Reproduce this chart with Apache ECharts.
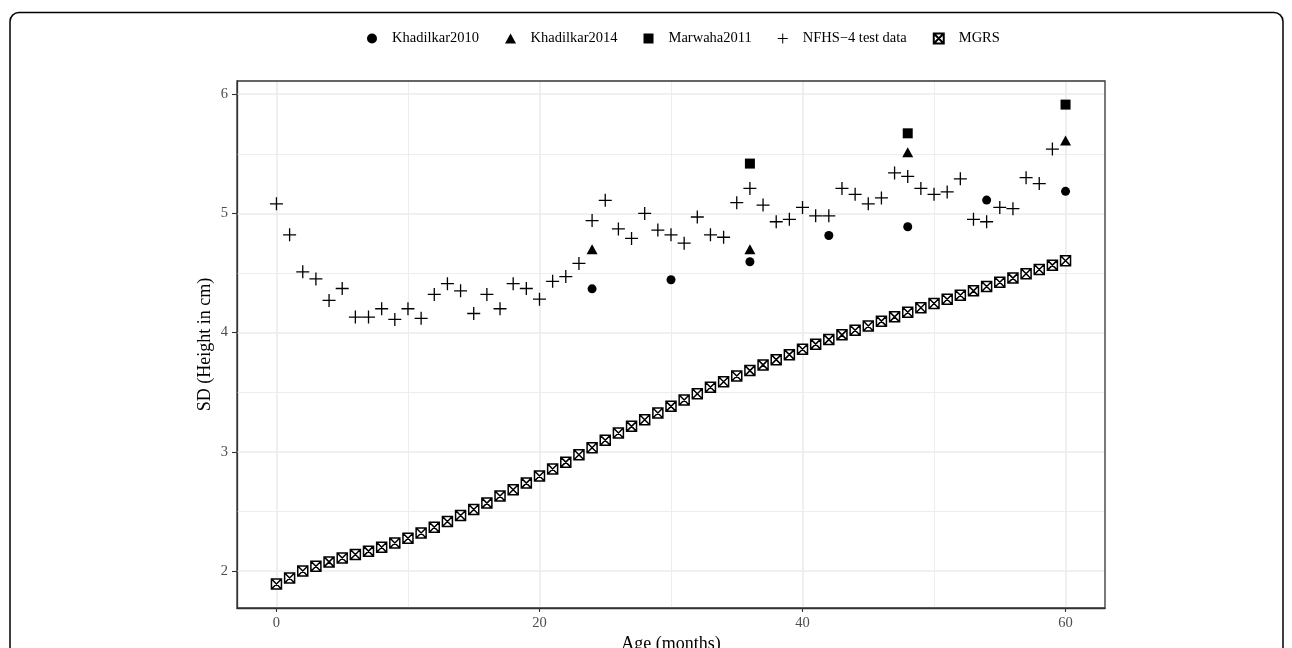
<!DOCTYPE html>
<html>
<head>
<meta charset="utf-8">
<script src="https://cdn.jsdelivr.net/npm/echarts@6/dist/echarts.min.js"></script>
<style>
html,body{margin:0;padding:0;background:#fff;}
#chart{width:1292px;height:648px;}
</style>
</head>
<body>
<div id="chart"></div>
<script>
// ---- data ----
const nfhsAges = [0,1,2,3,4,5,6,7,8,9,10,11,12,13,14,15,16,17,18,19,20,21,22,23,24,25,26,27,28,29,30,31,32,33,34,35,36,37,38,39,40,41,42,43,44,45,46,47,48,49,50,51,52,53,54,55,56,57,58,59];
const nfhsSD = [5.08,4.82,4.51,4.45,4.27,4.37,4.13,4.13,4.20,4.11,4.20,4.12,4.32,4.41,4.35,4.16,4.32,4.20,4.41,4.37,4.28,4.43,4.47,4.58,4.94,5.11,4.87,4.79,5.00,4.86,4.82,4.75,4.97,4.82,4.80,5.09,5.21,5.07,4.93,4.95,5.05,4.98,4.98,5.21,5.16,5.08,5.13,5.34,5.31,5.21,5.16,5.18,5.29,4.95,4.93,5.05,5.04,5.30,5.25,5.54];

const mgrsAges = [0,1,2,3,4,5,6,7,8,9,10,11,12,13,14,15,16,17,18,19,20,21,22,23,24,25,26,27,28,29,30,31,32,33,34,35,36,37,38,39,40,41,42,43,44,45,46,47,48,49,50,51,52,53,54,55,56,57,58,59,60];
const mgrsSD = [1.891,1.941,2.000,2.039,2.076,2.109,2.138,2.166,2.199,2.235,2.275,2.319,2.367,2.415,2.465,2.516,2.569,2.628,2.681,2.737,2.796,2.855,2.913,2.975,3.034,3.096,3.157,3.213,3.269,3.325,3.381,3.434,3.487,3.541,3.588,3.636,3.681,3.729,3.773,3.815,3.860,3.903,3.941,3.981,4.020,4.056,4.096,4.132,4.171,4.208,4.244,4.280,4.314,4.350,4.387,4.423,4.457,4.493,4.529,4.566,4.602];

const khad2010Ages = [24,30,36,42,48,54,60];
const khad2010SD = [4.367,4.443,4.594,4.815,4.888,5.112,5.185];

const khad2014Ages = [24,36,48,60];
const khad2014SD = [4.70,4.70,5.513,5.611];

const marwahaAges = [36,48,60];
const marwahaSD = [5.418,5.672,5.913];

const xTicks = [0,20,40,60];
const xMinor = [10,30,50];
const yTicks = [2,3,4,5,6];
const yMinor = [2.5,3.5,4.5,5.5];
const xRange = [-3,63];
const yRange = [1.689,6.111];

// ---- helpers ----
const zip = (xs, ys) => xs.map((x,i)=>[x, ys[i]]);
const FONT = 'Liberation Serif';
const PLUS = 'path://M9,0H11V9H20V11H11V20H9V11H0V9H9Z';
const XBOX = 'path://M0,0H10V10H0Z M0,0L10,10 M10,0L0,10';
const TRI = 'path://M5,0L10,9L0,9Z';
const SQ = 'path://M0,0H10V10H0Z';

const gridLines = [];
xTicks.forEach(v=>gridLines.push({xAxis:v, lineStyle:{color:'#ebebeb', width:1.6, type:'solid'}}));
xMinor.forEach(v=>gridLines.push({xAxis:v, lineStyle:{color:'#ebebeb', width:0.9, type:'solid'}}));
yTicks.forEach(v=>gridLines.push({yAxis:v, lineStyle:{color:'#ebebeb', width:1.6, type:'solid'}}));
yMinor.forEach(v=>gridLines.push({yAxis:v, lineStyle:{color:'#ebebeb', width:0.9, type:'solid'}}));

const chart = echarts.init(document.getElementById('chart'), null, {renderer:'canvas'});
chart.setOption({
  animation:false,
  backgroundColor:'#fff',
  graphic:[{
    type:'rect', z:-10, silent:true,
    shape:{x:10, y:12.5, width:1273, height:700, r:9},
    style:{fill:'none', stroke:'#000', lineWidth:1.5}
  }],
  legend:{
    top:26, left:362,
    itemWidth:30, itemHeight:10, itemGap:26,
    symbolKeepAspect:true,
    textStyle:{fontFamily:FONT, fontSize:14.5, color:'#000'},
    data:[
      {name:'Khadilkar2010'},
      {name:'Khadilkar2014'},
      {name:'Marwaha2011'},
      {name:'NFHS−4 test data'},
      {name:'MGRS'}
    ]
  },
  grid:{left:237, top:81, width:868, height:527, show:true, borderColor:'#333', borderWidth:1.3, backgroundColor:'transparent', z:3, containLabel:false, outerBoundsMode:'none'},
  xAxis:{
    type:'value', min:xRange[0], max:xRange[1],
    name:'Age (months)', nameLocation:'middle', nameGap:27, nameMoveOverlap:false,
    nameTextStyle:{fontFamily:FONT, fontSize:18, color:'#000'},
    axisLine:{show:true, onZero:false, lineStyle:{color:'#333', width:1.3}},
    axisTick:{show:true, customValues:xTicks, length:4, lineStyle:{color:'#333', width:1.1}},
    axisLabel:{customValues:xTicks, fontFamily:FONT, fontSize:14.5, color:'#4d4d4d', margin:8},
    splitLine:{show:false}
  },
  yAxis:{
    type:'value', min:yRange[0], max:yRange[1],
    name:'SD (Height in cm)', nameLocation:'middle', nameGap:23, nameMoveOverlap:false,
    nameTextStyle:{fontFamily:FONT, fontSize:18, color:'#000'},
    axisLine:{show:true, onZero:false, lineStyle:{color:'#333', width:1.3}},
    axisTick:{show:true, customValues:yTicks, length:5, lineStyle:{color:'#333', width:1.1}},
    axisLabel:{customValues:yTicks, fontFamily:FONT, fontSize:14.5, color:'#4d4d4d', margin:9},
    splitLine:{show:false}
  },
  series:[
    {
      type:'scatter', name:'gridlines', data:[], silent:true, z:1,
      markLine:{z:1, silent:true, symbol:['none','none'], label:{show:false}, animation:false, data:gridLines}
    },
    {
      type:'scatter', name:'MGRS', data:zip(mgrsAges, mgrsSD), z:4,
      symbol:XBOX, symbolSize:10,
      itemStyle:{color:'#fff', borderColor:'#000', borderWidth:1.5, opacity:1}
    },
    {
      type:'scatter', name:'NFHS−4 test data', data:zip(nfhsAges, nfhsSD), z:4,
      symbol:PLUS, symbolSize:13,
      itemStyle:{color:'#000', opacity:1}
    },
    {
      type:'scatter', name:'Khadilkar2010', data:zip(khad2010Ages, khad2010SD), z:4,
      symbol:'circle', symbolSize:9,
      itemStyle:{color:'#000', opacity:1}
    },
    {
      type:'scatter', name:'Khadilkar2014', data:zip(khad2014Ages, khad2014SD), z:4,
      symbol:TRI, symbolSize:[11,10],
      itemStyle:{color:'#000', opacity:1}
    },
    {
      type:'scatter', name:'Marwaha2011', data:zip(marwahaAges, marwahaSD), z:4,
      symbol:SQ, symbolSize:10,
      itemStyle:{color:'#000', opacity:1}
    }
  ]
});
</script>
</body>
</html>
